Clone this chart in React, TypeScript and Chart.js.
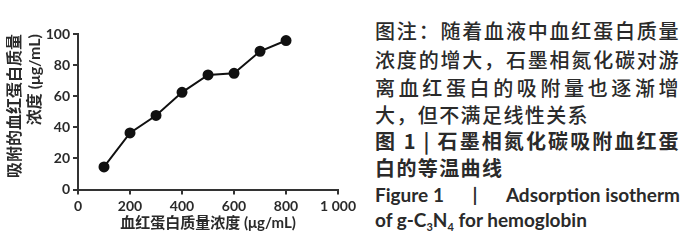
import React, { useEffect, useRef } from "react";
import { Chart, registerables } from "chart.js";

Chart.register(...registerables);

const concentrations = [100, 200, 300, 400, 500, 600, 700, 800];
const adsorbed = [14.5, 36.4, 47.6, 62.5, 73.7, 74.7, 88.9, 95.8];
const xTickLabels = ["0", "200", "400", "600", "800", "1 000"];
const yTickLabels = ["0", "20", "40", "60", "80", "100"];
const xTitle = "血红蛋白质量浓度 (μg/mL)";
const yTitle = ["吸附的血红蛋白质量", "浓度 (μg/mL)"];

const captionLines = [
  "图注：随着血液中血红蛋白质量",
  "浓度的增大，石墨相氮化碳对游",
  "离血红蛋白的吸附量也逐渐增",
  "大，但不满足线性关系",
];
const titleLines = ["图 1 | 石墨相氮化碳吸附血红蛋", "白的等温曲线"];

const FONT = "Lato, 'Noto Sans CJK SC', sans-serif";
const INK = "#2a2a2a";

export default function App() {
  const ref = useRef<HTMLCanvasElement | null>(null);

  useEffect(() => {
    const canvas = ref.current;
    if (!canvas) return;
    const chart = new Chart(canvas, {
      type: "line",
      data: {
        datasets: [
          {
            data: concentrations.map((x, i) => ({ x, y: adsorbed[i] })),
            borderColor: "#111",
            backgroundColor: "#111",
            borderWidth: 2,
            pointRadius: 4.5,
            pointBackgroundColor: "#111",
            pointBorderColor: "#111",
            tension: 0,
          },
        ],
      },
      options: {
        responsive: false,
        animation: false,
        devicePixelRatio: 1,
        layout: { padding: { top: 34, right: 20, bottom: 0, left: 0 } },
        plugins: { legend: { display: false }, tooltip: { enabled: false } },
        scales: {
          x: {
            type: "linear",
            min: 0,
            max: 1000,
            afterFit: (s: any) => {
              s.height = 54.5;
            },
            ticks: {
              stepSize: 200,
              autoSkip: false,
              maxRotation: 0,
              padding: 4,
              color: INK,
              font: { family: FONT, size: 14, weight: "bold" },
              callback: (_v: any, i: number) => xTickLabels[i],
            },
            grid: {
              drawOnChartArea: false,
              drawTicks: true,
              tickLength: 5,
              color: "#333",
              lineWidth: 2,
            },
            border: { display: true, color: "#333", width: 2 },
            title: {
              display: true,
              text: xTitle,
              color: INK,
              font: { family: FONT, size: 15, weight: "bold", lineHeight: 1.3 },
              padding: { top: 0, bottom: 11 },
            },
          },
          y: {
            type: "linear",
            min: 0,
            max: 100,
            afterFit: (s: any) => {
              s.width = 78;
            },
            ticks: {
              stepSize: 20,
              padding: 3,
              color: INK,
              font: { family: FONT, size: 14, weight: "bold" },
              callback: (_v: any, i: number) => yTickLabels[i],
            },
            grid: {
              drawOnChartArea: false,
              drawTicks: true,
              tickLength: 5,
              color: "#333",
              lineWidth: 2,
            },
            border: { display: true, color: "#333", width: 2 },
            title: {
              display: true,
              text: yTitle,
              align: "end",
              color: INK,
              font: { family: FONT, size: 16, weight: "bold", lineHeight: 1.25 },
              padding: { top: 5, bottom: 0 },
            },
          },
        },
      },
    });
    return () => chart.destroy();
  }, []);

  const cjk: React.CSSProperties = {
    position: "absolute",
    left: 375,
    width: 305,
    fontFamily: "'Noto Sans CJK SC', sans-serif",
    fontSize: 20,
    letterSpacing: 1.4,
    lineHeight: "27px",
    color: INK,
    whiteSpace: "nowrap",
  };
  const tops = [17, 46, 74, 101, 127, 154];
  const lat: React.CSSProperties = {
    position: "absolute",
    left: 375,
    width: 305,
    fontFamily: "Lato, sans-serif",
    fontWeight: 700,
    fontSize: 19,
    lineHeight: "27px",
    color: INK,
    whiteSpace: "nowrap",
  };

  return (
    <div
      style={{
        position: "fixed",
        left: 0,
        top: 0,
        width: 700,
        height: 244,
        background: "#fff",
        overflow: "hidden",
      }}
    >
      <canvas
        ref={ref}
        width={360}
        height={244}
        style={{ position: "absolute", left: 0, top: 0, width: 360, height: 244 }}
      />
      {captionLines.map((t, i) => (
        <div
          key={"c" + i}
          style={{
            ...cjk,
            top: tops[i],
            fontWeight: 500,
            textAlign: i < 3 ? "justify" : "left",
            textAlignLast: i < 3 ? "justify" : "left",
          }}
        >
          {t}
        </div>
      ))}
      {titleLines.map((t, i) => (
        <div
          key={"t" + i}
          style={{
            ...cjk,
            top: tops[4 + i],
            fontWeight: 700,
            textAlign: i === 0 ? "justify" : "left",
            textAlignLast: i === 0 ? "justify" : "left",
          }}
        >
          {t}
        </div>
      ))}
      <div
        style={{
          ...lat,
          top: 181,
          display: "flex",
          justifyContent: "space-between",
        }}
      >
        <span>Figure 1</span>
        <span>|</span>
        <span>Adsorption isotherm</span>
      </div>
      <div style={{ ...lat, top: 206 }}>
        of g-C<sub style={{ fontSize: 11, verticalAlign: -4, lineHeight: 0 }}>3</sub>N
        <sub style={{ fontSize: 11, verticalAlign: -4, lineHeight: 0 }}>4</sub> for hemoglobin
      </div>
    </div>
  );
}
